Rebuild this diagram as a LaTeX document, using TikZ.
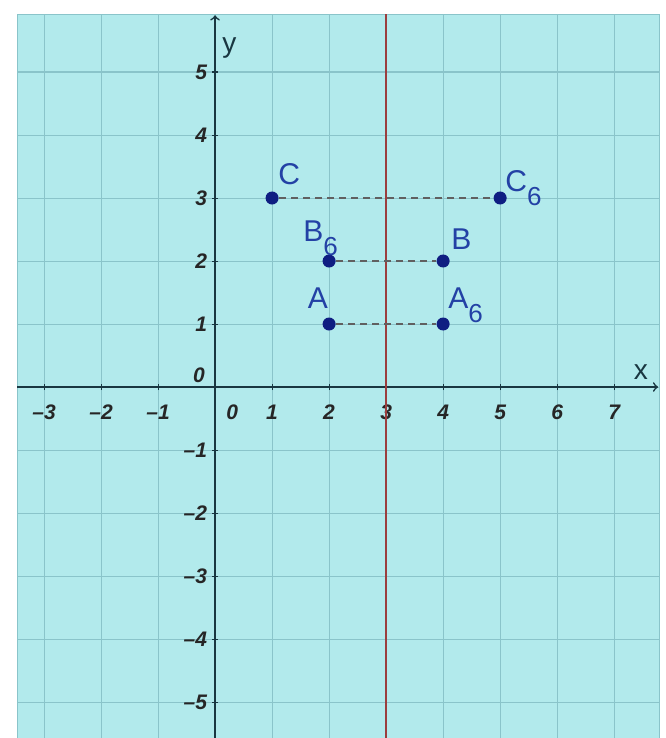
\documentclass[tikz,border=0pt]{standalone}
\usepackage{fontspec}
\setmainfont{Liberation Sans}
\usepackage{xcolor}
\definecolor{colorPlane}{RGB}{178,234,236}
\definecolor{colorGrid}{RGB}{138,196,202}
\definecolor{colorAxis}{RGB}{25,55,65}
\definecolor{colorMirror}{RGB}{155,62,62}
\definecolor{colorPoint}{RGB}{15,30,130}
\definecolor{colorLabel}{RGB}{35,65,165}
\usetikzlibrary{arrows, positioning}
\newcommand{\ptname}[2]{#1\raisebox{-0.9ex}{\fontsize{13}{13}\selectfont #2}}
\tikzset{
  point/.style={circle, fill=colorPoint, inner sep=0pt, minimum size=6.5pt},
  ptlabel/.style={text=colorLabel, font=\fontsize{15}{15}\selectfont, inner sep=1pt},
  ticklabel/.style={text=black!85, font=\fontsize{10.5}{10.5}\selectfont\bfseries\itshape, inner sep=1pt},
  axislabel/.style={text=colorAxis, font=\fontsize{14}{14}\selectfont, inner sep=1pt},
  mirror/.style={gray!75!black, line width=0.6pt, dash pattern=on 3.5pt off 2.5pt}
}
\begin{document}
\begin{tikzpicture}[x=1cm, y=1.105cm, >=to]
\useasboundingbox (-3.772,-5.571) rectangle (7.895,6.143);
\fill[white] (-3.772,-5.571) rectangle (7.895,6.143);
% plane and grid
\filldraw[fill=colorPlane, draw=colorGrid, line width=0.5pt] (-3.47,-5.6) rectangle (7.79,5.92);
\foreach \x in {-3,...,7}
  \draw[colorGrid, line width=0.5pt] (\x,-5.6) -- (\x,5.92);
\foreach \y in {-5,...,5}
  \draw[colorGrid, line width=0.5pt] (-3.47,\y) -- (7.79,\y);
% axes
\coordinate (xstart) at (-3.47,0);
\coordinate (xend) at (7.77,0);
\coordinate (ystart) at (0,-5.6);
\coordinate (yend) at (0,5.9);
\draw[->, colorAxis, line width=0.8pt] (xstart) -- (xend);
\draw[->, colorAxis, line width=0.8pt] (ystart) -- (yend);
\node[axislabel] (xname) at (7.47,0.24) {x};
\node[axislabel] (yname) at (0.25,5.38) {y};
\foreach \x in {-3,-2,-1,1,2,3,4,5,6,7}{
  \draw[colorAxis, line width=0.5pt] (\x,-0.05) -- (\x,0.05);
  \node[ticklabel] (xt\x) at (\x,-0.4) {\ifnum\x<0 \textendash\number-\x\else\x\fi};
}
\foreach \y in {-5,-4,-3,-2,-1,1,2,3,4,5}{
  \draw[colorAxis, line width=0.5pt] (-0.05,\y) -- (0.05,\y);
  \node[ticklabel, anchor=east] (yt\y) at (-0.1,\y) {\ifnum\y<0 \textendash\number-\y\else\y\fi};
}
\node[ticklabel] (xt0) at (0.3,-0.4) {0};
\node[ticklabel] (yt0) at (-0.28,0.19) {0};
% mirror line x=3
\coordinate (mbottom) at (3,-5.6);
\coordinate (mtop) at (3,5.92);
\draw[colorMirror, line width=1.1pt] (mbottom) -- (mtop);
% points and images
\node[point] (A) at (2,1) {};
\node[point] (B) at (4,2) {};
\node[point] (C) at (1,3) {};
\node[point] (A6) at (4,1) {};
\node[point] (B6) at (2,2) {};
\node[point] (C6) at (5,3) {};
\draw[mirror] (A) -- (A6);
\draw[mirror] (B6) -- (B);
\draw[mirror] (C) -- (C6);
\node[ptlabel, above right=3pt and -0.5pt of C] (lC) {C};
\node[ptlabel, right=-2pt of C6, yshift=5pt] (lC6) {\ptname{C}{6}};
\node[ptlabel, above left=-1pt and -8pt of B6] (lB6) {\ptname{B}{6}};
\node[ptlabel, above right=2pt and 0.5pt of B] (lB) {B};
\node[ptlabel, above left=4pt and -3pt of A] (lA) {A};
\node[ptlabel, above right=-3pt and -1pt of A6] (lA6) {\ptname{A}{6}};
\end{tikzpicture}
\end{document}
